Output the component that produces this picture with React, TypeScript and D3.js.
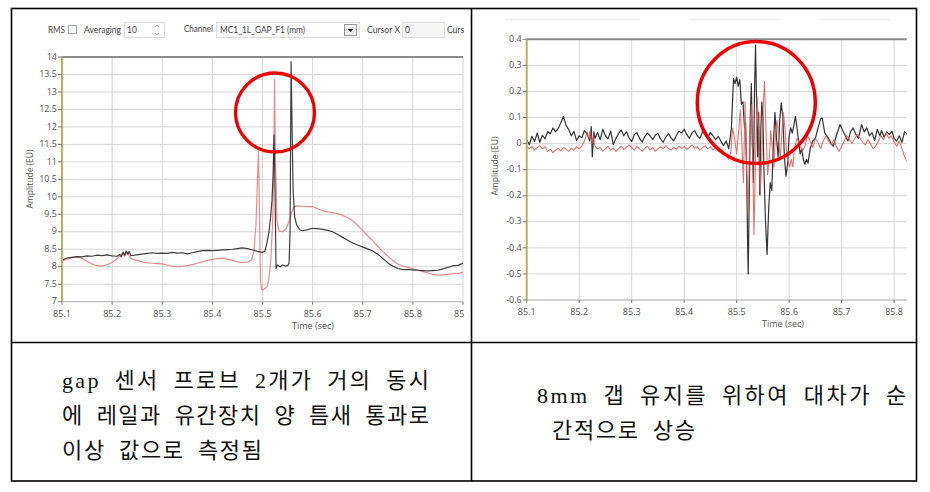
import React from "react";
import * as d3 from "d3";

// ---------- DATA ----------
const leftXTicks = [85.1, 85.2, 85.3, 85.4, 85.5, 85.6, 85.7, 85.8, 85.9];
const leftYTicks = [7, 7.5, 8, 8.5, 9, 9.5, 10, 10.5, 11, 11.5, 12, 12.5, 13, 13.5, 14];
const rightXTicks = [85.1, 85.2, 85.3, 85.4, 85.5, 85.6, 85.7, 85.8];
const rightYTicks = [-0.6, -0.5, -0.4, -0.3, -0.2, -0.1, 0, 0.1, 0.2, 0.3, 0.4];

const leftBlack: [number, number][] = [
  [85.100, 8.18], [85.105, 8.22], [85.110, 8.25], [85.120, 8.27], [85.130, 8.29], [85.140, 8.28],
  [85.150, 8.31], [85.160, 8.30], [85.170, 8.33], [85.180, 8.32], [85.190, 8.34], [85.200, 8.31],
  [85.210, 8.30], [85.215, 8.35], [85.218, 8.28], [85.222, 8.42], [85.225, 8.33], [85.228, 8.45],
  [85.231, 8.36], [85.234, 8.44], [85.237, 8.32], [85.245, 8.33], [85.260, 8.36], [85.270, 8.38],
  [85.280, 8.40], [85.290, 8.38], [85.300, 8.39], [85.310, 8.38], [85.320, 8.41], [85.330, 8.39],
  [85.340, 8.40], [85.350, 8.37], [85.360, 8.40], [85.370, 8.43], [85.380, 8.46], [85.390, 8.47],
  [85.400, 8.46], [85.410, 8.47], [85.420, 8.48], [85.430, 8.49], [85.440, 8.50], [85.450, 8.52],
  [85.460, 8.54], [85.470, 8.52], [85.480, 8.48], [85.490, 8.44], [85.500, 8.41], [85.505, 8.45],
  [85.509, 8.70], [85.513, 9.00], [85.516, 9.40], [85.519, 9.90], [85.521, 10.60], [85.523, 11.77],
  [85.525, 10.20], [85.527, 7.95], [85.530, 8.05], [85.535, 8.00], [85.540, 8.05], [85.545, 8.02],
  [85.550, 8.03], [85.553, 8.10], [85.555, 9.00], [85.557, 13.87], [85.559, 12.00], [85.561, 10.20],
  [85.564, 9.45], [85.568, 9.20], [85.575, 9.05], [85.580, 9.03], [85.590, 9.06], [85.600, 9.10],
  [85.610, 9.09], [85.620, 9.07], [85.630, 9.04], [85.640, 9.00], [85.650, 8.92], [85.660, 8.84],
  [85.670, 8.76], [85.680, 8.68], [85.690, 8.62], [85.700, 8.56], [85.710, 8.51], [85.720, 8.45],
  [85.730, 8.36], [85.740, 8.24], [85.750, 8.11], [85.760, 8.02], [85.770, 7.95], [85.780, 7.92],
  [85.790, 7.92], [85.800, 7.91], [85.810, 7.90], [85.820, 7.89], [85.830, 7.88], [85.840, 7.89],
  [85.850, 7.90], [85.860, 7.94], [85.870, 7.98], [85.880, 8.03], [85.890, 8.04], [85.900, 8.10],
];

const leftPink: [number, number][] = [
  [85.100, 8.17], [85.110, 8.22], [85.120, 8.26], [85.130, 8.28], [85.140, 8.24], [85.150, 8.16],
  [85.160, 8.08], [85.170, 8.03], [85.180, 8.02], [85.190, 8.06], [85.200, 8.12], [85.210, 8.22],
  [85.215, 8.32], [85.220, 8.38], [85.225, 8.30], [85.230, 8.42], [85.235, 8.28], [85.240, 8.22],
  [85.250, 8.18], [85.260, 8.14], [85.270, 8.11], [85.280, 8.10], [85.290, 8.09], [85.300, 8.08],
  [85.310, 8.05], [85.320, 8.02], [85.330, 8.00], [85.340, 8.01], [85.350, 8.03], [85.360, 8.06],
  [85.370, 8.10], [85.380, 8.14], [85.390, 8.18], [85.400, 8.21], [85.410, 8.23], [85.420, 8.24],
  [85.430, 8.22], [85.440, 8.18], [85.450, 8.14], [85.460, 8.12], [85.470, 8.13], [85.478, 8.20],
  [85.483, 8.45], [85.487, 9.20], [85.490, 10.50], [85.492, 11.30], [85.494, 9.50], [85.496, 7.60],
  [85.499, 7.33], [85.503, 7.36], [85.507, 7.40], [85.510, 7.45], [85.514, 7.80], [85.517, 8.30],
  [85.520, 9.20], [85.522, 10.30], [85.524, 13.35], [85.526, 11.00], [85.529, 9.30], [85.533, 9.02],
  [85.540, 9.00], [85.547, 9.08], [85.553, 9.30], [85.558, 9.55], [85.563, 9.72], [85.570, 9.74],
  [85.580, 9.73], [85.590, 9.72], [85.600, 9.72], [85.610, 9.66], [85.620, 9.60], [85.630, 9.57],
  [85.640, 9.55], [85.650, 9.52], [85.660, 9.47], [85.670, 9.40], [85.680, 9.32], [85.690, 9.18],
  [85.700, 9.04], [85.710, 8.88], [85.720, 8.74], [85.730, 8.58], [85.740, 8.44], [85.750, 8.30],
  [85.760, 8.18], [85.770, 8.08], [85.780, 8.02], [85.790, 7.98], [85.800, 7.94], [85.810, 7.90],
  [85.820, 7.86], [85.830, 7.82], [85.840, 7.78], [85.850, 7.76], [85.860, 7.77], [85.870, 7.78],
  [85.880, 7.80], [85.890, 7.81], [85.900, 7.84],
];

const rightBlack: [number, number][] = [
  [85.100, 0.015], [85.105, -0.004], [85.110, 0.028], [85.115, 0.008], [85.120, 0.040], [85.125, 0.005],
  [85.130, 0.032], [85.135, 0.018], [85.140, 0.046], [85.145, 0.038], [85.150, 0.060], [85.155, 0.045],
  [85.160, 0.058], [85.165, 0.080], [85.170, 0.104], [85.175, 0.070], [85.180, 0.054], [85.185, 0.030],
  [85.190, 0.047], [85.195, 0.012], [85.200, 0.030], [85.205, 0.022], [85.210, 0.050], [85.215, 0.038],
  [85.220, 0.010], [85.223, 0.065], [85.225, -0.050], [85.228, 0.045], [85.230, 0.020], [85.235, 0.042],
  [85.240, 0.015], [85.245, 0.055], [85.250, 0.030], [85.255, 0.018], [85.260, 0.048], [85.265, -0.004],
  [85.270, 0.020], [85.275, 0.038], [85.280, 0.052], [85.285, 0.030], [85.290, 0.045], [85.295, 0.022],
  [85.300, 0.008], [85.305, 0.035], [85.310, 0.042], [85.315, 0.020], [85.320, 0.005], [85.325, 0.028],
  [85.330, 0.040], [85.335, 0.030], [85.340, 0.015], [85.345, 0.032], [85.350, 0.040], [85.355, 0.018],
  [85.360, 0.005], [85.365, 0.025], [85.370, 0.038], [85.375, 0.022], [85.380, 0.010], [85.385, 0.030],
  [85.390, 0.048], [85.395, 0.040], [85.400, 0.055], [85.405, 0.035], [85.410, 0.020], [85.415, 0.042],
  [85.420, 0.050], [85.425, 0.030], [85.430, 0.020], [85.435, 0.045], [85.440, 0.038], [85.445, 0.025],
  [85.450, 0.042], [85.455, 0.030], [85.460, 0.015], [85.465, 0.028], [85.470, 0.010], [85.475, -0.008],
  [85.480, 0.010], [85.485, -0.020], [85.490, 0.060], [85.494, 0.250], [85.497, 0.230], [85.500, 0.255],
  [85.503, 0.220], [85.506, 0.245], [85.509, 0.150], [85.512, 0.160], [85.515, 0.060], [85.517, 0.080],
  [85.519, -0.100], [85.521, -0.400], [85.522, -0.500], [85.524, -0.200], [85.526, 0.100], [85.528, 0.230],
  [85.530, 0.000], [85.532, -0.150], [85.534, 0.200], [85.536, 0.378], [85.538, 0.150], [85.540, -0.050],
  [85.542, 0.120], [85.544, -0.195], [85.546, 0.050], [85.548, 0.160], [85.550, 0.100], [85.552, -0.100],
  [85.555, -0.300], [85.558, -0.425], [85.561, -0.250], [85.564, -0.150], [85.567, -0.180], [85.570, 0.000],
  [85.573, 0.120], [85.576, 0.020], [85.579, -0.050], [85.582, 0.090], [85.585, 0.156], [85.588, 0.100],
  [85.591, -0.050], [85.594, -0.125], [85.597, -0.080], [85.600, 0.030], [85.603, 0.060], [85.606, 0.040],
  [85.609, 0.070], [85.612, 0.104], [85.615, 0.060], [85.618, 0.010], [85.621, -0.040], [85.624, -0.020],
  [85.627, -0.060], [85.630, -0.080], [85.633, -0.060], [85.636, -0.075], [85.640, -0.020], [85.645, 0.010],
  [85.650, 0.020], [85.655, 0.060], [85.660, 0.095], [85.663, 0.098], [85.668, 0.040], [85.675, 0.020],
  [85.680, 0.000], [85.684, -0.010], [85.690, 0.030], [85.697, 0.073], [85.702, 0.050], [85.707, 0.030],
  [85.712, 0.010], [85.717, 0.045], [85.722, 0.060], [85.727, 0.035], [85.732, 0.020], [85.738, 0.073],
  [85.743, 0.045], [85.748, 0.060], [85.753, 0.030], [85.758, 0.042], [85.763, 0.012], [85.768, 0.055],
  [85.773, 0.030], [85.776, 0.050], [85.781, 0.025], [85.786, 0.045], [85.791, 0.035], [85.796, 0.048],
  [85.800, 0.020], [85.805, 0.010], [85.810, 0.030], [85.815, 0.005], [85.820, 0.046], [85.825, 0.035],
];

const rightPink: [number, number][] = [
  [85.100, -0.010], [85.105, -0.020], [85.110, -0.012], [85.115, -0.025], [85.120, -0.015], [85.125, -0.008],
  [85.130, -0.020], [85.135, -0.012], [85.140, -0.030], [85.145, -0.022], [85.150, -0.035], [85.155, -0.025],
  [85.160, -0.018], [85.165, -0.028], [85.170, -0.015], [85.175, -0.022], [85.180, -0.030], [85.185, -0.018],
  [85.190, -0.025], [85.195, -0.012], [85.200, -0.020], [85.205, -0.010], [85.210, 0.010], [85.215, 0.045],
  [85.218, 0.020], [85.221, 0.050], [85.224, 0.000], [85.227, 0.030], [85.230, -0.010], [85.235, -0.020],
  [85.240, -0.015], [85.245, -0.030], [85.250, -0.020], [85.255, -0.010], [85.260, -0.025], [85.265, -0.018],
  [85.270, -0.030], [85.275, -0.020], [85.280, -0.010], [85.285, -0.022], [85.290, -0.015], [85.295, -0.005],
  [85.300, -0.015], [85.305, -0.025], [85.310, -0.012], [85.315, -0.020], [85.320, -0.030], [85.325, -0.018],
  [85.330, -0.010], [85.335, -0.025], [85.340, -0.015], [85.345, -0.030], [85.350, -0.020], [85.355, -0.012],
  [85.360, -0.020], [85.365, -0.008], [85.370, -0.018], [85.375, -0.025], [85.380, -0.015], [85.385, -0.022],
  [85.390, -0.010], [85.395, -0.018], [85.400, -0.012], [85.405, -0.022], [85.410, -0.015], [85.415, -0.005],
  [85.420, -0.018], [85.425, -0.012], [85.430, -0.025], [85.435, -0.015], [85.440, -0.008], [85.445, -0.020],
  [85.450, -0.012], [85.455, -0.025], [85.460, -0.015], [85.465, -0.030], [85.470, -0.020], [85.475, -0.035],
  [85.480, -0.045], [85.485, -0.060], [85.489, -0.030], [85.492, 0.060], [85.496, 0.020], [85.500, -0.040],
  [85.504, 0.050], [85.507, 0.130], [85.510, 0.000], [85.513, -0.150], [85.516, 0.160], [85.519, -0.100],
  [85.522, -0.260], [85.525, 0.050], [85.528, 0.150], [85.531, -0.100], [85.533, -0.350], [85.536, -0.050],
  [85.539, 0.180], [85.542, 0.050], [85.545, -0.200], [85.548, -0.050], [85.551, 0.160], [85.553, 0.240],
  [85.556, 0.050], [85.559, -0.120], [85.562, -0.060], [85.565, 0.050], [85.568, -0.020], [85.571, -0.090],
  [85.574, 0.040], [85.577, 0.090], [85.580, 0.020], [85.583, -0.060], [85.586, 0.040], [85.589, 0.120],
  [85.592, 0.060], [85.595, -0.030], [85.598, -0.070], [85.601, -0.090], [85.604, -0.060], [85.607, -0.090],
  [85.610, -0.020], [85.615, 0.020], [85.620, 0.000], [85.625, -0.030], [85.630, -0.010], [85.635, 0.030],
  [85.640, 0.010], [85.645, -0.015], [85.650, 0.020], [85.655, 0.005], [85.660, -0.020], [85.665, 0.010],
  [85.670, 0.030], [85.675, 0.010], [85.680, -0.005], [85.685, 0.015], [85.690, -0.010], [85.695, -0.030],
  [85.700, -0.010], [85.705, 0.010], [85.710, 0.030], [85.715, 0.015], [85.720, 0.000], [85.725, 0.020],
  [85.730, 0.035], [85.735, 0.020], [85.740, 0.005], [85.745, -0.005], [85.750, 0.015], [85.755, 0.000],
  [85.760, -0.020], [85.765, -0.010], [85.770, 0.010], [85.775, 0.030], [85.780, 0.015], [85.785, 0.040],
  [85.790, 0.020], [85.795, 0.030], [85.800, 0.005], [85.805, -0.010], [85.810, 0.010], [85.815, -0.020],
  [85.820, -0.050], [85.825, -0.070],
];

const leftNoteLines = ["gap 센서 프로브 2개가 거의 동시", "에 레일과 유간장치 양 틈새 통과로", "이상 값으로 측정됨"];
const rightNoteLines = ["8mm 갭 유지를 위하여 대차가 순", "간적으로 상승"];

const toolbarLabels = { rms: "RMS", averaging: "Averaging", averagingValue: "10", channel: "Channel", channelValue: "MC1_1L_GAP_F1 (mm)", cursor: "Cursor X", cursorValue: "0", cursorCut: "Curs" };
const axisTitleX = "Time (sec)";
const axisTitleY = "Amplitude (EU)";

// ---------- COMPONENT ----------
const UI_FONT = "'Open Sans', 'Noto Sans', sans-serif";
const BAR_FONT = "Lato, 'Open Sans', sans-serif";
const NOTE_FONT = "'Liberation Serif', 'Noto Sans CJK KR', serif";

type Pt = [number, number];

function Plot(props: {
  id: string;
  x: d3.ScaleLinear<number, number>;
  y: d3.ScaleLinear<number, number>;
  xTicks: number[];
  yTicks: number[];
  yFmt: (v: number) => string;
  series: { data: Pt[]; color: string; width: number; opacity: number }[];
  titleX: number;
  titleY: [number, number];
}) {
  const { id, x, y, xTicks, yTicks, yFmt, series } = props;
  const [x0, x1] = x.range();
  const [yb, yt] = y.range();
  const line = d3.line<Pt>().x((d) => x(d[0])).y((d) => y(d[1]));
  return (
    <g>
      <defs>
        <clipPath id={id}>
          <rect x={x0} y={yt - 1} width={x1 - x0} height={yb - yt + 2} />
        </clipPath>
      </defs>
      <rect x={x0} y={yt} width={x1 - x0} height={yb - yt} fill="#ffffff" />
      {yTicks.map((v) => (
        <line key={"gy" + v} x1={x0} x2={x1} y1={y(v)} y2={y(v)} stroke="#d6d6d6" strokeWidth={1} />
      ))}
      {xTicks.map((v) => (
        <line key={"gx" + v} x1={x(v)} x2={x(v)} y1={yt} y2={yb} stroke="#d6d6d6" strokeWidth={1} />
      ))}
      <g clipPath={`url(#${id})`}>
        {series.map((s, i) => (
          <path key={i} d={line(s.data) || ""} fill="none" stroke={s.color} strokeWidth={s.width} strokeOpacity={s.opacity} strokeLinejoin="round" />
        ))}
      </g>
      <line x1={x0} x2={x1} y1={yt} y2={yt} stroke="#8c8c8c" strokeWidth={2} />
      <line x1={x0} x2={x1} y1={yb} y2={yb} stroke="#b8b8b8" strokeWidth={1} />
      <line x1={x0} x2={x0} y1={yt} y2={yb} stroke="#c2ad5a" strokeWidth={2} />
      {yTicks.map((v) => (
        <g key={"ty" + v}>
          <line x1={x0 - 4} x2={x0} y1={y(v)} y2={y(v)} stroke="#777" strokeWidth={1} />
          <text x={x0 - 5} y={y(v)} dy="0.3em" textAnchor="end" fontSize={9} fill="#555" fontFamily={UI_FONT}>
            {yFmt(v)}
          </text>
        </g>
      ))}
      {xTicks.map((v) => (
        <g key={"tx" + v}>
          <line x1={x(v)} x2={x(v)} y1={yb} y2={yb + 3} stroke="#777" strokeWidth={1} />
          <text x={x(v)} y={yb + 15} textAnchor="middle" fontSize={9} fill="#555" fontFamily={UI_FONT}>
            {v.toFixed(1)}
          </text>
        </g>
      ))}
      <text x={props.titleX} y={yb + 27} textAnchor="middle" fontSize={9} fill="#555" fontFamily={UI_FONT}>
        {axisTitleX}
      </text>
      <text
        transform={`translate(${props.titleY[0]},${props.titleY[1]}) rotate(-90)`}
        textAnchor="middle"
        dy="0.35em"
        fontSize={8.5}
        fill="#555"
        fontFamily={UI_FONT}
      >
        {axisTitleY}
      </text>
    </g>
  );
}

export default function App() {
  const xL = d3.scaleLinear().domain([85.1, 85.9]).range([62, 463]);
  const yL = d3.scaleLinear().domain([7, 14]).range([301.7, 57]);
  const xR = d3.scaleLinear().domain([85.1, 85.824]).range([526.7, 906.7]);
  const yR = d3.scaleLinear().domain([-0.6, 0.4]).range([300, 39.3]);

  const fmtL = (v: number) => (Number.isInteger(v) ? String(v) : v.toFixed(1));
  const fmtR = (v: number) => (Math.abs(v) < 1e-9 ? "0" : v.toFixed(1));

  return (
    <svg width={930} height={492} style={{ position: "absolute", left: 0, top: 0, background: "#fff" }}>
      <defs>
        <clipPath id="leftShot">
          <rect x={12} y={9} width={453} height={332} />
        </clipPath>
      </defs>
      <rect x={0} y={0} width={930} height={492} fill="#fff" />

      {/* LEFT SCREENSHOT */}
      <g clipPath="url(#leftShot)">
        {/* toolbar */}
        <g fontFamily={BAR_FONT} fontSize={8.5} fill="#444">
          <text x={48} y={33} textLength={17} lengthAdjust="spacingAndGlyphs">{toolbarLabels.rms}</text>
          <rect x={68.5} y={25.5} width={8} height={8} fill="#fff" stroke="#aaa" />
          <text x={84} y={33} textLength={37} lengthAdjust="spacingAndGlyphs">{toolbarLabels.averaging}</text>
          <rect x={124.5} y={22.5} width={40} height={15} fill="#fff" stroke="#ddd" />
          <text x={127} y={33}>{toolbarLabels.averagingValue}</text>
          <path d="M155,27 l2,-2 l2,2 M155,33 l2,2 l2,-2" stroke="#999" fill="none" strokeWidth={0.8} />
          <text x={184} y={32} textLength={29} lengthAdjust="spacingAndGlyphs">{toolbarLabels.channel}</text>
          <rect x={216.5} y={22.5} width={143} height={15} fill="#fff" stroke="#ddd" />
          <text x={220} y={33} textLength={85} lengthAdjust="spacingAndGlyphs">{toolbarLabels.channelValue}</text>
          <rect x={344.5} y={24.5} width={12} height={11} fill="#f0f0f0" stroke="#999" />
          <path d="M347.5,29 l3,3 l3,-3 z" fill="#222" />
          <text x={367} y={33} textLength={33} lengthAdjust="spacingAndGlyphs">{toolbarLabels.cursor}</text>
          <rect x={402.5} y={22.5} width={42} height={15} fill="#f6f6f6" stroke="#ddd" />
          <text x={405} y={33}>{toolbarLabels.cursorValue}</text>
          <text x={447} y={33}>{toolbarLabels.cursorCut}</text>
        </g>
        <Plot
          id="clipL"
          x={xL}
          y={yL}
          xTicks={leftXTicks}
          yTicks={leftYTicks}
          yFmt={fmtL}
          series={[
            { data: leftPink, color: "#e8817f", width: 1.2, opacity: 0.9 },
            { data: leftBlack, color: "#2a2a2a", width: 1.2, opacity: 0.9 },
          ]}
          titleX={313}
          titleY={[30, 179]}
        />
      </g>

      {/* RIGHT SCREENSHOT */}
      <g>
        <line x1={505} x2={640} y1={19.5} y2={19.5} stroke="#f1f1f1" strokeWidth={2} />
        <line x1={690} x2={780} y1={19.5} y2={19.5} stroke="#f1f1f1" strokeWidth={2} />
        <line x1={820} x2={890} y1={19.5} y2={19.5} stroke="#f1f1f1" strokeWidth={2} />
        <Plot
          id="clipR"
          x={xR}
          y={yR}
          xTicks={rightXTicks}
          yTicks={rightYTicks}
          yFmt={fmtR}
          series={[
            { data: rightBlack, color: "#1e1e1e", width: 1.2, opacity: 0.9 },
            { data: rightPink, color: "#e05a5a", width: 1.1, opacity: 0.85 },
          ]}
          titleX={783}
          titleY={[495, 166]}
        />
      </g>

      {/* red circles */}
      <ellipse cx={275} cy={112.5} rx={39.5} ry={39.5} fill="none" stroke="#ee0000" strokeWidth={3.3} />
      <ellipse cx={756.3} cy={102.5} rx={59} ry={61} fill="none" stroke="#ee0000" strokeWidth={3.5} />

      {/* table borders */}
      <g stroke="#000" strokeWidth={1.6} fill="none">
        <rect x={11.5} y={8.5} width={905} height={472.5} />
        <line x1={471.5} x2={471.5} y1={8.5} y2={481} />
        <line x1={11.5} x2={916.5} y1={342.5} y2={342.5} />
      </g>

      {/* notes */}
      <g fontFamily={NOTE_FONT} fontSize={22} fill="#111" wordSpacing={6}>
        {leftNoteLines.map((t, i) => (
          <text
            key={"l" + i}
            x={62}
            y={380 + i * 35}
            dominantBaseline="central"
            textLength={i < 2 ? 367 : 200}
            lengthAdjust="spacing"
          >
            {t}
          </text>
        ))}
        {rightNoteLines.map((t, i) => (
          <text
            key={"r" + i}
            x={i === 0 ? 537 : 552}
            y={395 + i * 35}
            dominantBaseline="central"
            textLength={i === 0 ? 369 : 143}
            lengthAdjust="spacing"
          >
            {t}
          </text>
        ))}
      </g>
    </svg>
  );
}
